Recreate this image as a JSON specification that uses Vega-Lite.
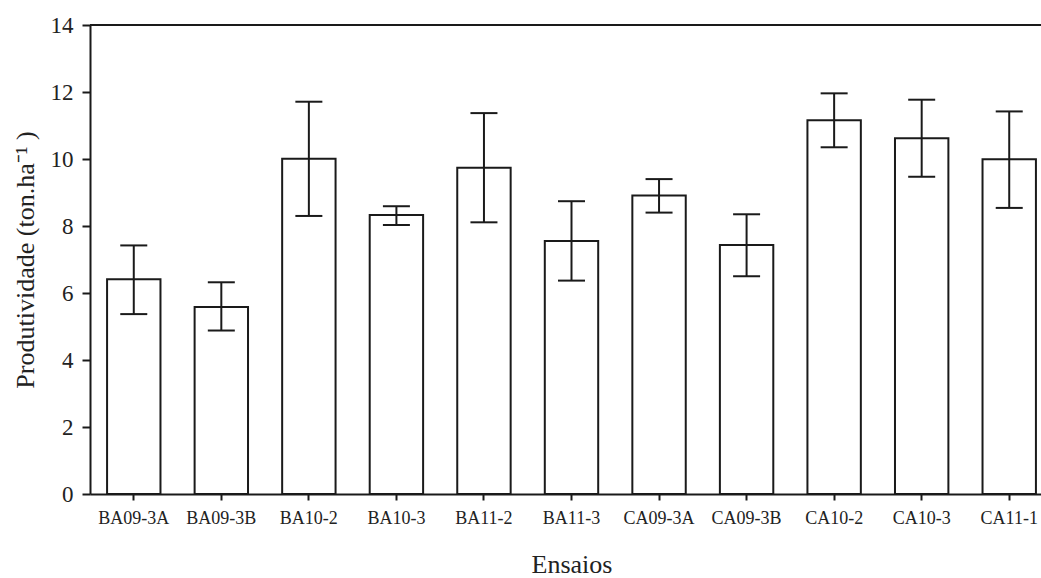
{
  "$schema": "https://vega.github.io/schema/vega-lite/v6.json",
  "autosize": {"type": "none"},
  "padding": {"left": 90, "top": 25, "right": 0, "bottom": 84},
  "width": 951,
  "height": 469,
  "background": "white",
  "config": {
    "view": {"stroke": null},
    "font": "Liberation Serif",
    "axis": {
      "domainColor": "#1a1a1a",
      "domainWidth": 2,
      "tickColor": "#1a1a1a",
      "tickWidth": 2,
      "labelColor": "#222222",
      "titleColor": "#222222",
      "grid": false
    }
  },
  "data": {
    "values": [
      {"ensaio": "BA09-3A", "media": 6.41, "min": 5.37, "max": 7.42},
      {"ensaio": "BA09-3B", "media": 5.58, "min": 4.88, "max": 6.32},
      {"ensaio": "BA10-2", "media": 10.01, "min": 8.30, "max": 11.71},
      {"ensaio": "BA10-3", "media": 8.33, "min": 8.03, "max": 8.59},
      {"ensaio": "BA11-2", "media": 9.74, "min": 8.11, "max": 11.37},
      {"ensaio": "BA11-3", "media": 7.55, "min": 6.37, "max": 8.74},
      {"ensaio": "CA09-3A", "media": 8.91, "min": 8.40, "max": 9.40},
      {"ensaio": "CA09-3B", "media": 7.43, "min": 6.50, "max": 8.35},
      {"ensaio": "CA10-2", "media": 11.16, "min": 10.35, "max": 11.96},
      {"ensaio": "CA10-3", "media": 10.62, "min": 9.47, "max": 11.77},
      {"ensaio": "CA11-1", "media": 9.99, "min": 8.54, "max": 11.42}
    ]
  },
  "encoding": {
    "x": {
      "field": "ensaio",
      "type": "nominal",
      "sort": null,
      "scale": {"range": [0, 963], "paddingInner": 0.39, "paddingOuter": 0.195},
      "axis": {
        "title": "Ensaios",
        "labelAngle": 0,
        "labelFont": "Liberation Serif",
        "titleFont": "Liberation Serif",
        "titleFontWeight": "normal",
        "labelFontSize": 18,
        "titleFontSize": 26,
        "tickSize": 6,
        "labelPadding": 9,
        "titlePadding": 24
      }
    }
  },
  "layer": [
    {
      "mark": {"type": "bar", "fill": "white", "stroke": "#1a1a1a", "strokeWidth": 2},
      "encoding": {
        "y": {
          "field": "media",
          "type": "quantitative",
          "scale": {"domain": [0, 14], "nice": false, "zero": true},
          "axis": {
            "title": "Produtividade (ton.ha⁻¹ )",
            "values": [0, 2, 4, 6, 8, 10, 12, 14],
            "labelFont": "Liberation Serif",
            "titleFont": "Liberation Serif",
            "titleFontWeight": "normal",
            "labelFontSize": 23,
            "titleFontSize": 26,
            "tickSize": 8,
            "labelPadding": 9,
            "titlePadding": 12
          }
        }
      }
    },
    {
      "mark": {"type": "rule", "stroke": "#1a1a1a", "strokeWidth": 2},
      "encoding": {
        "y": {"field": "min", "type": "quantitative"},
        "y2": {"field": "max"}
      }
    },
    {
      "mark": {"type": "tick", "color": "#1a1a1a", "size": 27, "thickness": 2, "opacity": 1},
      "encoding": {"y": {"field": "min", "type": "quantitative"}}
    },
    {
      "mark": {"type": "tick", "color": "#1a1a1a", "size": 27, "thickness": 2, "opacity": 1},
      "encoding": {"y": {"field": "max", "type": "quantitative"}}
    },
    {
      "data": {"values": [{"topo": 14}]},
      "mark": {"type": "rule", "stroke": "#1a1a1a", "strokeWidth": 2},
      "encoding": {"y": {"field": "topo", "type": "quantitative"}, "x": null}
    }
  ]
}
